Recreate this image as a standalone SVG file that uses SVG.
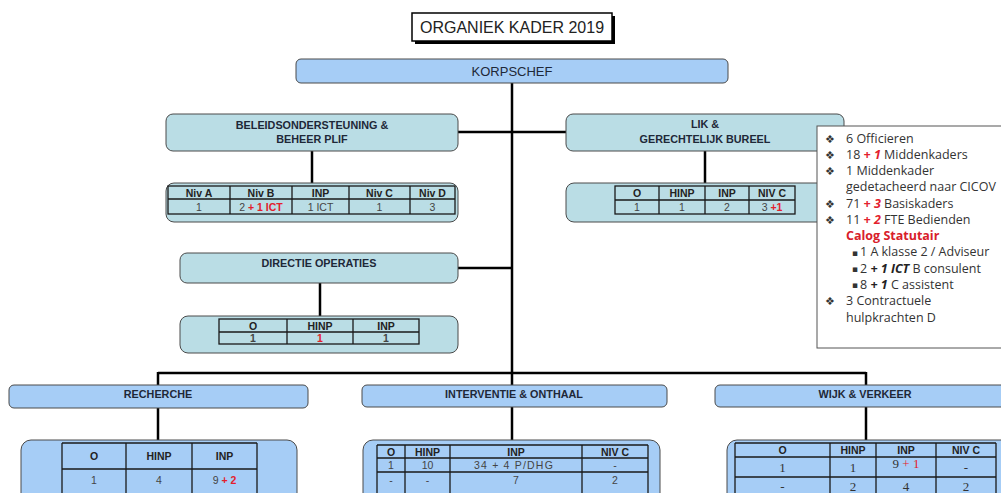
<svg xmlns="http://www.w3.org/2000/svg" width="1001" height="493" viewBox="0 0 1001 493">
<style>
.ln{stroke:#000;stroke-width:2.5;fill:none}
.bb{fill:#a6cdf6;stroke:#4a4a4a;stroke-width:1}
.tb{fill:#badde5;stroke:#4a4a4a;stroke-width:1}
.grid{stroke:#1a1a1a;stroke-width:1.3;fill:none}
.t{font-family:"Liberation Sans",Arial,sans-serif;text-anchor:middle}
.hd{font-weight:bold;font-size:10.8px;fill:#1e2838}
.h{font-weight:bold;font-size:10.5px;fill:#222}
.v{font-size:10.5px;fill:#444}
.r{fill:#e3202c;font-weight:bold}
.lg{font-family:"Open Sans","Liberation Sans",sans-serif;font-size:12.5px;fill:#333}
.bu{font-family:"DejaVu Sans",sans-serif;font-size:11px;fill:#333}
.sq{font-family:"DejaVu Sans",sans-serif;font-size:9px;fill:#333}
.rb{fill:#e3202c;font-weight:bold;font-style:italic}
.kb{fill:#222;font-weight:bold;font-style:italic}
</style>

<g id="connectors">
<line class="ln" x1="512" y1="83" x2="512" y2="385"/>
<line class="ln" x1="458" y1="132" x2="566" y2="132"/>
<line class="ln" x1="458" y1="268" x2="512" y2="268"/>
<line class="ln" x1="312" y1="151" x2="312" y2="183"/>
<line class="ln" x1="705" y1="151" x2="705" y2="183"/>
<line class="ln" x1="320" y1="283" x2="320" y2="316"/>
<line class="ln" x1="158" y1="373" x2="866" y2="373"/>
<line class="ln" x1="158" y1="372" x2="158" y2="385"/>
<line class="ln" x1="866" y1="372" x2="866" y2="385"/>
<line class="ln" x1="158" y1="408" x2="158" y2="440"/>
<line class="ln" x1="512" y1="407" x2="512" y2="440"/>
<line class="ln" x1="866" y1="407" x2="866" y2="440"/>
</g>

<g id="title">
<rect x="415" y="16" width="200" height="28" fill="#000"/>
<rect x="412" y="13" width="200" height="28" fill="#fff" stroke="#000" stroke-width="1.5"/>
<text class="t" x="512" y="33" font-size="16" fill="#222">ORGANIEK KADER 2019</text>
</g>

<g id="korpschef">
<rect class="bb" x="296" y="59" width="432" height="24" rx="5"/>
<text class="t" x="512" y="75.5" font-size="13" fill="#1e2838">KORPSCHEF</text>
</g>

<g id="beleid">
<rect class="tb" x="166" y="114" width="292" height="37" rx="7"/>
<text class="t hd" x="312" y="129">BELEIDSONDERSTEUNING &amp;</text>
<text class="t hd" x="312" y="143">BEHEER PLIF</text>
</g>
<g id="beleid-table">
<rect class="tb" x="166" y="183" width="292" height="39" rx="8"/>
<rect class="grid" x="168" y="186" width="287" height="28"/>
<path class="grid" d="M168 199H455M230 186V214M292 186V214M349 186V214M410 186V214"/>
<text class="t h" x="199" y="196.5">Niv A</text>
<text class="t h" x="261" y="196.5">Niv B</text>
<text class="t h" x="320.5" y="196.5">INP</text>
<text class="t h" x="379.5" y="196.5">Niv C</text>
<text class="t h" x="432.5" y="196.5">Niv D</text>
<text class="t v" x="199" y="210.5">1</text>
<text class="t v" x="261" y="210.5">2 <tspan class="r">+ 1 ICT</tspan></text>
<text class="t v" x="320.5" y="210.5">1 ICT</text>
<text class="t v" x="379.5" y="210.5">1</text>
<text class="t v" x="432.5" y="210.5">3</text>
</g>

<g id="lik">
<rect class="tb" x="566" y="114" width="278" height="37" rx="7"/>
<text class="t hd" x="705" y="128">LIK &amp;</text>
<text class="t hd" x="705" y="143">GERECHTELIJK BUREEL</text>
</g>
<g id="lik-table">
<rect class="tb" x="566" y="183" width="278" height="39" rx="8"/>
<rect class="grid" x="615" y="186" width="180" height="28"/>
<path class="grid" d="M615 200H795M659 186V214M705 186V214M749 186V214"/>
<text class="t h" x="637" y="197">O</text>
<text class="t h" x="682" y="197">HINP</text>
<text class="t h" x="727" y="197">INP</text>
<text class="t h" x="772" y="197">NIV C</text>
<text class="t v" x="637" y="211">1</text>
<text class="t v" x="682" y="211">1</text>
<text class="t v" x="727" y="211">2</text>
<text class="t v" x="772" y="211">3 <tspan class="r">+1</tspan></text>
</g>

<g id="legend">
<rect x="817" y="126" width="190" height="222" fill="#fff" stroke="#555" stroke-width="1"/>
<g class="bu">
<text x="825" y="143">❖</text>
<text x="825" y="159">❖</text>
<text x="825" y="175">❖</text>
<text x="825" y="208">❖</text>
<text x="825" y="224">❖</text>
<text x="825" y="305">❖</text>
</g>
<g class="sq">
<text x="852" y="256">▪</text>
<text x="852" y="272">▪</text>
<text x="852" y="288">▪</text>
</g>
<g class="lg">
<text x="846" y="143">6 Officieren</text>
<text x="846" y="159">18 <tspan class="rb">+ 1</tspan> Middenkaders</text>
<text x="846" y="175">1 Middenkader</text>
<text x="846" y="191">gedetacheerd naar CICOV</text>
<text x="846" y="208">71 <tspan class="rb">+ 3</tspan> Basiskaders</text>
<text x="846" y="224">11 <tspan class="rb">+ 2</tspan> FTE Bedienden</text>
<text x="846" y="240" fill="#d8202a" font-weight="bold">Calog Statutair</text>
<text x="860" y="256">1 A klasse 2 / Adviseur</text>
<text x="860" y="273">2 <tspan class="kb">+ 1 ICT</tspan> B consulent</text>
<text x="860" y="289">8 <tspan class="kb">+ 1</tspan> C assistent</text>
<text x="846" y="305">3 Contractuele</text>
<text x="846" y="322">hulpkrachten D</text>
</g>
</g>

<g id="directie">
<rect class="tb" x="180" y="253" width="278" height="30" rx="7"/>
<text class="t hd" x="319" y="267">DIRECTIE OPERATIES</text>
</g>
<g id="directie-table">
<rect class="tb" x="180" y="316" width="278" height="37" rx="8"/>
<rect class="grid" x="219" y="319" width="200" height="25"/>
<path class="grid" d="M219 332H419M287 319V344M353 319V344"/>
<text class="t h" x="253" y="329.5">O</text>
<text class="t h" x="320" y="329.5">HINP</text>
<text class="t h" x="386" y="329.5">INP</text>
<text class="t v" x="253" y="342" font-weight="bold">1</text>
<text class="t v r" x="320" y="342">1</text>
<text class="t v" x="386" y="342" font-weight="bold" fill="#222">1</text>
</g>

<g id="recherche">
<rect class="bb" x="9" y="385" width="299" height="23" rx="5"/>
<text class="t hd" x="158" y="398">RECHERCHE</text>
</g>
<g id="recherche-table">
<rect class="bb" x="21" y="440" width="276" height="70" rx="10"/>
<path class="grid" d="M62 443H257M62 469H257M62 443V500M126 443V500M192 443V500M257 443V500"/>
<text class="t h" x="94" y="460">O</text>
<text class="t h" x="159" y="460">HINP</text>
<text class="t h" x="224.5" y="460">INP</text>
<text class="t v" x="94" y="484">1</text>
<text class="t v" x="159" y="484">4</text>
<text class="t v" x="224.5" y="484">9 <tspan class="r">+ 2</tspan></text>
</g>

<g id="interventie">
<rect class="bb" x="362" y="385" width="305" height="22" rx="5"/>
<text class="t hd" x="514" y="398">INTERVENTIE &amp; ONTHAAL</text>
</g>
<g id="interventie-table">
<rect class="bb" x="363" y="440" width="297" height="70" rx="10"/>
<path class="grid" d="M377 445H648M377 458H648M377 472H648M377 445V500M405 445V500M450 445V500M582 445V500M648 445V500"/>
<text class="t h" x="391" y="455.5">O</text>
<text class="t h" x="427.5" y="455.5">HINP</text>
<text class="t h" x="516" y="455.5">INP</text>
<text class="t h" x="615" y="455.5">NIV C</text>
<text class="t v" x="391" y="469">1</text>
<text class="t v" x="427.5" y="469">10</text>
<text class="t v" x="514" y="469" letter-spacing="1.2">34 + 4 P/DHG</text>
<text class="t v" x="615" y="469">-</text>
<text class="t v" x="391" y="484">-</text>
<text class="t v" x="427.5" y="484">-</text>
<text class="t v" x="516" y="484">7</text>
<text class="t v" x="615" y="484">2</text>
</g>

<g id="wijk">
<rect class="bb" x="715" y="385" width="300" height="22" rx="5"/>
<text class="t hd" x="865" y="398">WIJK &amp; VERKEER</text>
</g>
<g id="wijk-table">
<rect class="bb" x="727" y="440" width="290" height="70" rx="10"/>
<path class="grid" d="M735 443H996M735 457H996M735 477H996M735 443V500M830 443V500M876 443V500M936 443V500M996 443V500"/>
<text class="t h" x="782.5" y="453.5">O</text>
<text class="t h" x="853" y="453.5">HINP</text>
<text class="t h" x="906" y="453.5">INP</text>
<text class="t h" x="966" y="453.5">NIV C</text>
<g font-family="Liberation Serif,serif" font-size="13" fill="#333" text-anchor="middle">
<text x="782.5" y="472">1</text>
<text x="853" y="472">1</text>
<text x="906" y="468">9 <tspan fill="#e3202c">+ 1</tspan></text>
<text x="966" y="472">-</text>
<text x="782.5" y="491">-</text>
<text x="853" y="491">2</text>
<text x="906" y="491">4</text>
<text x="966" y="491">2</text>
</g>
</g>
</svg>
